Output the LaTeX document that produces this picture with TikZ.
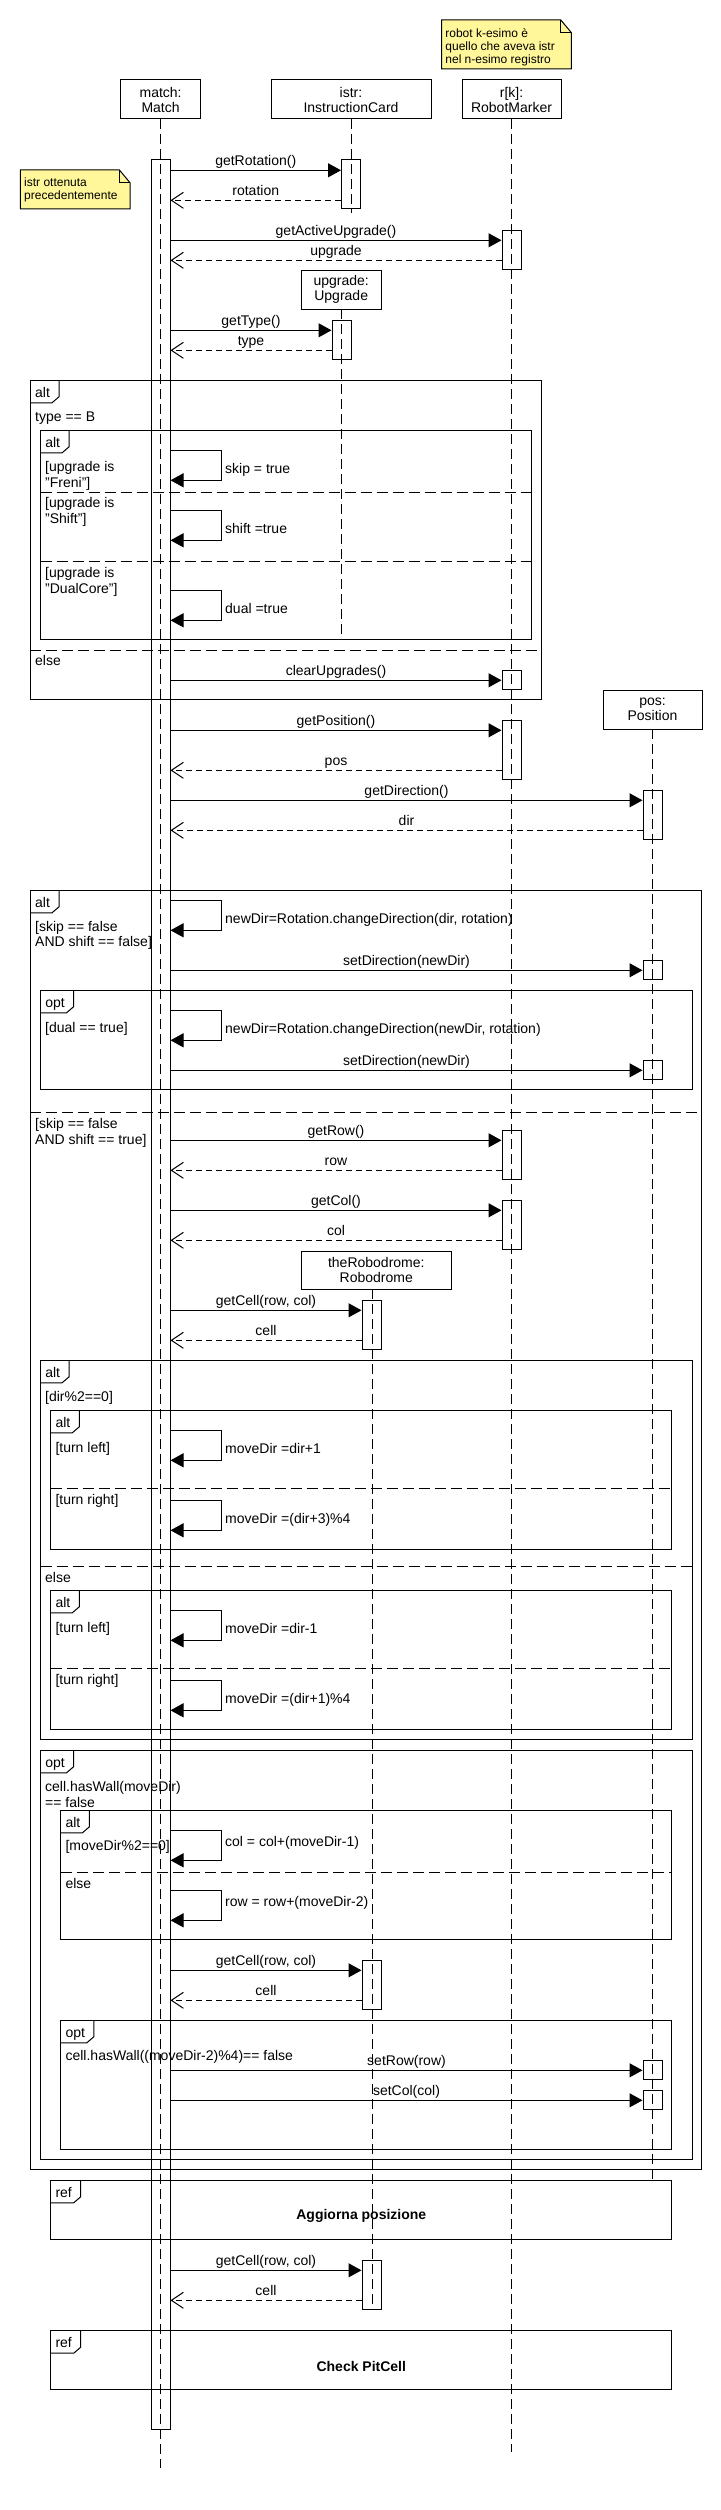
\documentclass[tikz,border=0pt]{standalone}
\usepackage{fontspec}
\setmainfont{Liberation Sans}
\usetikzlibrary{arrows.meta,calc}
\definecolor{notey}{RGB}{255,247,153}
\newcommand\fsN{\fontsize{14}{15}\selectfont}
\newcommand\fsS{\fontsize{12}{13.4}\selectfont}
\newcommand\act[4]{\node[actbox, minimum height={#4-#3}] (#1) at (#2,{(#3+#4)/2}) {};}
\newcommand\smsg[4]{\coordinate (#1) at (0,#2);
  \draw[sync] (mact.east |- #1) -- node[lbl] (#1t) {#4} (#3.west |- #1);}
\newcommand\rmsg[4]{\coordinate (#1) at (0,#2);
  \draw[ret] (#3.west |- #1) -- node[lbl] (#1t) {#4} (mact.east |- #1);}
\newcommand\selfloop[4]{\coordinate (#1) at (0,#2);
  \draw[sync] (mact.east |- #1) -- ++(51,0) -- ++(0,30) -- ++(-51,0);
  \node[slbl] (#1t) at (225,{#2+#4}) {#3};}
\newcommand\frag[7]{\draw[frame] (#2,#3) rectangle (#4,#5);
  \draw[frame] (#2,{#3+22.5}) -- ({#2+#7-7},{#3+22.5}) -- ({#2+#7},{#3+16.5}) -- ({#2+#7},#3);
  \node[tablbl] (#1) at ({#2+4.6},{#3+17}) {#6};}
\begin{document}
\begin{tikzpicture}[x=1pt,y=-1pt,
  every node/.style={font=\fsN, inner sep=0pt},
  head/.style={draw, line width=1pt, fill=white, align=center, minimum height=39pt, inner sep=0pt},
  life/.style={line width=1pt, dash pattern=on 10pt off 5pt},
  actbox/.style={draw, line width=1pt, minimum width=19pt, inner sep=0pt},
  sync/.style={line width=1pt, -{Triangle[length=13pt,width=14pt]}},
  ret/.style={line width=1pt, dash pattern=on 6pt off 4pt, -{Straight Barb[length=12pt,width=16pt]}},
  lbl/.style={anchor=south, yshift=1.3pt, text height=10pt, text depth=3pt},
  slbl/.style={anchor=base west},
  guard/.style={anchor=base west},
  tablbl/.style={anchor=base west},
  frame/.style={line width=1pt},
  sep/.style={line width=1pt, dash pattern=on 11pt off 5pt},
  notebox/.style={draw, line width=1pt, fill=notey},
  notetxt/.style={anchor=base west, font=\fsS},
  reftxt/.style={font=\fsN\bfseries}
]
\useasboundingbox (0,0) rectangle (720,2510);

% notes
\draw[notebox] (441.5,20) -- (560.8,20) -- (571.4,32.7) -- (571.4,69) -- (441.5,69) -- cycle;
\draw[line width=1pt] (560.8,20) -- (560.8,32.7) -- (571.4,32.7);
\node[notetxt] (n1a) at (445.2,37.3) {robot k-esimo è};
\node[notetxt] (n1b) at (445.2,50.7) {quello che aveva istr};
\node[notetxt] (n1c) at (445.2,64) {nel n-esimo registro};
\draw[notebox] (20.3,170) -- (119.4,170) -- (130,182.7) -- (130,209) -- (20.3,209) -- cycle;
\draw[line width=1pt] (119.4,170) -- (119.4,182.7) -- (130,182.7);
\node[notetxt] (n2a) at (24,186.7) {istr ottenuta};
\node[notetxt] (n2b) at (24,200) {precedentemente};

% lifelines
\coordinate (matchE) at (160.5,2468);
\coordinate (istrE) at (351,213);
\coordinate (rkE) at (511.5,2452);
\coordinate (upgE) at (341.5,640);
\coordinate (posE) at (652.5,2180);
\coordinate (roboE) at (372,2310);
\draw[life] (160.5,119) -- (matchE);
\draw[life] (351,119) -- (istrE);
\draw[life] (511.5,119) -- (rkE);
\draw[life] (341.5,309) -- (upgE);
\draw[life] (652.5,729) -- (posE);
\draw[life] (372,1289) -- (roboE);

% heads
\node[head, minimum width=79.8pt] (match) at (160.6,99.5) {match:\\Match};
\node[head, minimum width=160pt] (istr) at (351,99.5) {istr:\\InstructionCard};
\node[head, minimum width=99pt] (rk) at (511.5,99.5) {r[k]:\\RobotMarker};
\node[head, minimum width=80pt] (upg) at (341.2,289.5) {upgrade:\\Upgrade};
\node[head, minimum width=99pt] (pos) at (652.5,709.5) {pos:\\Position};
\node[head, minimum width=150pt, minimum height=38pt] (robo) at (376.3,1270) {theRobodrome:\\Robodrome};

% activations
\act{mact}{160.5}{160}{2429.3}
\act{a1}{351}{160}{209}
\act{ra1}{511.5}{230}{269}
\act{ua1}{341.5}{320}{359}
\act{ra2}{511.5}{670.3}{689.3}
\act{ra3}{511.5}{720.3}{779.3}
\act{pa1}{652.5}{790.3}{839.3}
\act{pa2}{652.5}{960.3}{979.3}
\act{pa3}{652.5}{1060.3}{1079.3}
\act{ra4}{511.5}{1130.3}{1179.3}
\act{ra5}{511.5}{1200.3}{1249.3}
\act{rda1}{371.5}{1300.3}{1349.3}
\act{rda2}{371.5}{1960.3}{2009.3}
\act{pa4}{652.5}{2060.3}{2079.3}
\act{pa5}{652.5}{2090.3}{2109.3}
\act{rda3}{371.5}{2260.3}{2309.3}

% messages
\smsg{m1}{170.3}{a1}{getRotation()}
\rmsg{r1}{200.3}{a1}{rotation}
\smsg{m2}{240.3}{ra1}{getActiveUpgrade()}
\rmsg{r2}{260.3}{ra1}{upgrade}
\smsg{m3}{330.3}{ua1}{getType()}
\rmsg{r3}{350.3}{ua1}{type}
\smsg{m4}{680.3}{ra2}{clearUpgrades()}
\smsg{m5}{730.3}{ra3}{getPosition()}
\rmsg{r4}{770.3}{ra3}{pos}
\smsg{m6}{800.3}{pa1}{getDirection()}
\rmsg{r5}{830.3}{pa1}{dir}
\smsg{m7}{970.3}{pa2}{setDirection(newDir)}
\smsg{m8}{1070.3}{pa3}{setDirection(newDir)}
\smsg{m9}{1140.3}{ra4}{getRow()}
\rmsg{r6}{1170.3}{ra4}{row}
\smsg{m10}{1210.3}{ra5}{getCol()}
\rmsg{r7}{1240.3}{ra5}{col}
\smsg{m11}{1310.3}{rda1}{getCell(row, col)}
\rmsg{r8}{1340.3}{rda1}{cell}
\smsg{m12}{1970.3}{rda2}{getCell(row, col)}
\rmsg{r9}{2000.3}{rda2}{cell}
\smsg{m13}{2070.3}{pa4}{setRow(row)}
\smsg{m14}{2100.3}{pa5}{setCol(col)}
\smsg{m15}{2270.3}{rda3}{getCell(row, col)}
\rmsg{r10}{2300.3}{rda3}{cell}

% self messages
\selfloop{s1}{450.3}{skip = true}{23}
\selfloop{s2}{510.3}{shift =true}{23}
\selfloop{s3}{590.3}{dual =true}{23}
\selfloop{s4}{900.3}{newDir=Rotation.changeDirection(dir, rotation)}{23}
\selfloop{s5}{1010.3}{newDir=Rotation.changeDirection(newDir, rotation)}{23}
\selfloop{s6}{1430.3}{moveDir =dir+1}{23}
\selfloop{s7}{1500.3}{moveDir =(dir+3)\%4}{23}
\selfloop{s8}{1610.3}{moveDir =dir-1}{23}
\selfloop{s9}{1680.3}{moveDir =(dir+1)\%4}{23}
\selfloop{s10}{1830.3}{col = col+(moveDir-1)}{15.7}
\selfloop{s11}{1890.3}{row = row+(moveDir-2)}{15.7}

% fragments
\frag{f1}{30.4}{380.3}{541.5}{699.3}{alt}{28.6}
\draw[sep] (30.4,650.3) -- (541.5,650.3);
\frag{f1a}{40.5}{430.3}{531.3}{639.3}{alt}{28.6}
\draw[sep] (40.5,492) -- (531.3,492);
\draw[sep] (40.5,561.3) -- (531.3,561.3);
\frag{f2}{30.4}{890.3}{701.8}{2169.3}{alt}{28.6}
\draw[sep] (30.4,1112) -- (701.8,1112);
\frag{f2o}{40.5}{990.3}{692.2}{1089.3}{opt}{33}
\frag{f3}{40.5}{1360.3}{692.2}{1739.3}{alt}{28.6}
\draw[sep] (40.5,1566.7) -- (692.2,1566.7);
\frag{f3a}{50.7}{1410.3}{671.9}{1549.3}{alt}{28.6}
\draw[sep] (50.7,1488.7) -- (671.9,1488.7);
\frag{f3b}{50.7}{1590.3}{671.9}{1729.3}{alt}{28.6}
\draw[sep] (50.7,1668.7) -- (671.9,1668.7);
\frag{f4}{40.5}{1750.3}{692.2}{2159.3}{opt}{33}
\frag{f4a}{60.8}{1810.3}{671.9}{1939.3}{alt}{28.6}
\draw[sep] (60.8,1872.3) -- (671.9,1872.3);
\frag{f4o}{60.8}{2020.3}{671.9}{2149.3}{opt}{33}
\frag{rf1}{50.7}{2180.3}{671.9}{2239.3}{ref}{30}
\node[reftxt] (rf1t) at (361.3,2216.3) {Aggiorna posizione};
\frag{rf2}{50.7}{2330.7}{671.9}{2389.3}{ref}{30}
\node[reftxt] (rf2t) at (361.3,2366.5) {Check PitCell};

% guards
\node[guard] (g1) at (35,421) {type == B};
\node[guard] (g2a) at (45,471.4) {[upgrade is};
\node[guard] (g2b) at (45,487) {"Freni"]};
\node[guard] (g3a) at (45,507.7) {[upgrade is};
\node[guard] (g3b) at (45,523.4) {"Shift"]};
\node[guard] (g4a) at (45,577.7) {[upgrade is};
\node[guard] (g4b) at (45,593) {"DualCore"]};
\node[guard] (g5) at (35,665.4) {else};
\node[guard] (g6a) at (35,931.4) {[skip == false};
\node[guard] (g6b) at (35,946.7) {AND shift == false]};
\node[guard] (g7) at (45,1032) {[dual == true]};
\node[guard] (g8a) at (35,1128.4) {[skip == false};
\node[guard] (g8b) at (35,1144) {AND shift == true]};
\node[guard] (g9) at (45,1401.4) {[dir\%2==0]};
\node[guard] (g10) at (55.3,1452) {[turn left]};
\node[guard] (g11) at (55.3,1504.7) {[turn right]};
\node[guard] (g12) at (45,1582.4) {else};
\node[guard] (g13) at (55.3,1632) {[turn left]};
\node[guard] (g14) at (55.3,1684.7) {[turn right]};
\node[guard] (g15a) at (45,1791.4) {cell.hasWall(moveDir)};
\node[guard] (g15b) at (45,1807) {== false};
\node[guard] (g16) at (65.4,1850.4) {[moveDir\%2==0]};
\node[guard] (g17) at (65.4,1888) {else};
\node[guard] (g18) at (65.4,2060.4) {cell.hasWall((moveDir-2)\%4)== false};
\end{tikzpicture}
\end{document}
